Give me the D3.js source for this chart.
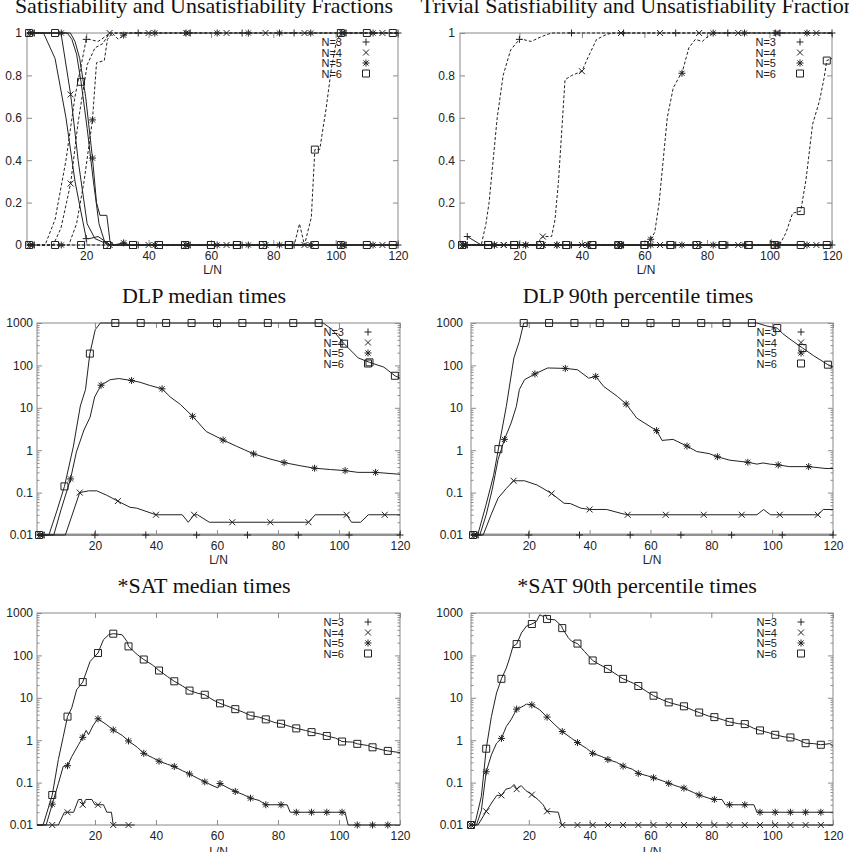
<!DOCTYPE html>
<html><head><meta charset="utf-8">
<script src="https://cdn.jsdelivr.net/npm/d3@7"></script>
<style>body{margin:0;background:#fff}</style>
</head><body>
<svg id="c" width="849" height="852" xmlns="http://www.w3.org/2000/svg"></svg>
<script>
// ---------------- DATA ----------------
const TITLES = ["Satisfiability and Unsatisfiability Fractions","Trivial Satisfiability and Unsatisfiability Fractions",
  "DLP median times","DLP 90th percentile times","*SAT median times","*SAT 90th percentile times"];
const X_LABEL = "L/N";
const X_TICKS = [20,40,60,80,100,120];
const LIN_TICKS = [0,0.2,0.4,0.6,0.8,1];
const LIN_LABELS = ["0","0.2","0.4","0.6","0.8","1"];
const LOG_TICKS = [0.01,0.1,1,10,100,1000];
const LOG_LABELS = ["0.01","0.1","1","10","100","1000"];
const LEGEND_N = [3,4,5,6];
const LEGEND_LABELS = ["N=3","N=4","N=5","N=6"];
// each point: [L/N, value, marker?]
// Panel 1: satisfiability (solid) / unsatisfiability (dashed) fractions
const fracSatN3 = [[1,1],[3.33,1,1],[6.3,1],[10,0.88],[13.5,0.6],[16.4,0.3],[20,0.03,1],[21,0.03],[23.8,0.04],[27.8,0],[36.67,0,1],[53.33,0,1],[70,0,1],[86.67,0,1],[103.33,0,1],[120,0,1]];
const fracUnsatN3 = [[1,0],[3.33,0,1],[6.8,0],[10,0.12],[13.5,0.4],[16.4,0.7],[20,0.97,1],[21,0.97],[23.8,0.96],[27.8,1],[36.67,1,1],[53.33,1,1],[70,1,1],[86.67,1,1],[103.33,1,1],[120,1,1]];
const fracSatN4 = [[1,1],[2.5,1,1],[11.9,1],[15,0.71,1],[17.4,0.4],[20.3,0.1],[22.8,0.03],[27.5,0,1],[40,0,1],[52.5,0,1],[65,0,1],[77.5,0,1],[90,0,1],[102.5,0,1],[115,0,1],[120,0]];
const fracUnsatN4 = [[1,0],[2.5,0,1],[9.4,0],[11.9,0.08],[15,0.29,1],[17.4,0.58],[20.3,0.85],[22.8,0.93],[25.3,0.95],[27.5,1,1],[40,1,1],[52.5,1,1],[65,1,1],[77.5,1,1],[90,1,1],[102.5,1,1],[115,1,1],[120,1]];
const fracSatN5 = [[1,1],[2,1,1],[12,1,1],[14.9,1],[16.4,0.96],[17.9,0.88],[19.8,0.7],[22,0.41,1],[23.3,0.2],[24.4,0.14],[26.6,0.14],[27.6,0.02],[28.8,0],[32,0.01,1],[33.8,0],[42,0,1],[52,0,1],[62,0,1],[72,0,1],[82,0,1],[92,0,1],[102,0,1],[112,0,1],[120,0]];
const fracUnsatN5 = [[1,0],[2,0,1],[12,0,1],[14.4,0],[16.9,0.1],[19.3,0.3],[22,0.59,1],[23.3,0.86],[25.8,0.87],[26.8,0.97],[28.3,1],[30.3,0.97],[32,0.99,1],[33.8,1],[42,1,1],[52,1,1],[62,1,1],[72,1,1],[82,1,1],[92,1,1],[102,1,1],[112,1,1],[120,1]];
const fracSatN6 = [[1,1],[1.67,1,1],[10,1,1],[13.9,1],[15.4,0.97],[16.9,0.9],[18.33,0.77,1],[20.3,0.55],[22.3,0.3],[24.1,0.1],[25.8,0.02],[26.67,0,1],[35,0,1],[43.33,0,1],[51.67,0,1],[60,0,1],[68.33,0,1],[76.67,0,1],[85,0,1],[93.33,0,1],[101.67,0,1],[110,0,1],[118.33,0,1],[120,0]];
const fracUnsatN6 = [[1,0],[1.67,0,1],[10,0,1],[18.33,0,1],[26.67,0,1],[35,0,1],[43.33,0,1],[51.67,0,1],[60,0,1],[68.33,0,1],[76.67,0,1],[85,0,1],[86.7,0],[88.4,0.1],[90,0],[92.2,0.13],[93.33,0.45,1],[94.9,0.45],[97,0.65],[98.6,0.83],[100.1,0.95],[101.67,1,1],[110,1,1],[118.33,1,1],[120,1]];
// Panel 2: trivial fractions
const trivSatN3 = [[3.33,0.04,1],[7.8,0],[20,0,1],[36.67,0,1],[53.33,0,1],[70,0,1],[86.67,0,1],[103.33,0,1],[120,0,1]];
const trivUnsatN3 = [[3.33,0,1],[7.8,0],[9.3,0.1],[10.3,0.2],[11.6,0.4],[12.9,0.6],[14.8,0.8],[17.2,0.92],[20,0.97,1],[21,0.97],[23.8,0.96],[26.6,0.98],[30.2,1],[36.67,1,1],[53.33,1,1],[70,1,1],[86.67,1,1],[103.33,1,1],[120,1,1]];
const trivSatN4 = [[2.5,0,1],[15,0,1],[27.5,0,1],[40,0,1],[52.5,0,1],[65,0,1],[77.5,0,1],[90,0,1],[102.5,0,1],[115,0,1],[120,0]];
const trivUnsatN4 = [[2.5,0,1],[15,0,1],[25.4,0],[27.5,0.04,1],[30.3,0.04],[31.4,0.12],[32.5,0.3],[33.6,0.55],[34.6,0.78],[36.8,0.8],[40,0.82,1],[42.1,0.89],[44.7,0.97],[47.4,0.99],[49.6,1],[52.5,1,1],[65,1,1],[77.5,1,1],[90,1,1],[102.5,1,1],[115,1,1],[120,1]];
const trivSatN5 = [[2,0,1],[12,0,1],[22,0,1],[32,0,1],[42,0,1],[52,0,1],[62,0,1],[72,0,1],[82,0,1],[92,0,1],[102,0,1],[112,0,1],[120,0]];
const trivUnsatN5 = [[2,0,1],[12,0,1],[22,0,1],[32,0,1],[42,0,1],[52,0,1],[60.3,0],[62,0.027,1],[63.3,0.06],[64.7,0.2],[66,0.4],[67.3,0.6],[69.2,0.74],[71,0.79],[72,0.81,1],[74.2,0.93],[76.3,0.97],[78.5,0.96],[80,0.98],[82,1,1],[92,1,1],[102,1,1],[112,1,1],[120,1]];
const trivSatN6 = [[1.67,0,1],[10,0,1],[18.33,0,1],[26.67,0,1],[35,0,1],[43.33,0,1],[51.67,0,1],[60,0,1],[68.33,0,1],[76.67,0,1],[85,0,1],[93.33,0,1],[101.67,0,1],[110,0,1],[118.33,0,1],[120,0]];
const trivUnsatN6 = [[1.67,0,1],[10,0,1],[18.33,0,1],[26.67,0,1],[35,0,1],[43.33,0,1],[51.67,0,1],[60,0,1],[68.33,0,1],[76.67,0,1],[85,0,1],[93.33,0,1],[99.9,0],[100.6,0.027],[101.67,0,1],[103.2,0],[105.2,0.055],[107.4,0.15],[110,0.16,1],[111.7,0.31],[113.8,0.57],[116,0.68],[117.5,0.79],[118.33,0.87,1],[120,0.88]];
// Panel 3: DLP median times
const dlpMedN3 = [[1,0.01],[3.33,0.01,1],[20,0.01,1],[36.67,0.01,1],[53.33,0.01,1],[70,0.01,1],[86.67,0.01,1],[103.33,0.01,1],[120,0.01,1]];
const dlpMedN4 = [[1,0.01],[2.5,0.01,1],[10.3,0.01],[15,0.1,1],[17.9,0.11],[20.6,0.11],[23.8,0.087],[27.5,0.063,1],[31.5,0.045],[33.7,0.043],[40,0.03,1],[48.6,0.03],[50.6,0.02],[52.5,0.03,1],[53.6,0.03],[57.5,0.02],[65,0.02,1],[77.5,0.02,1],[90,0.02,1],[92.2,0.03],[102.5,0.03,1],[104.1,0.02],[107.1,0.02],[109.6,0.03],[115,0.03,1],[120,0.03]];
const dlpMedN5 = [[1,0.01],[2,0.01,1],[6.5,0.01],[8.9,0.04],[12,0.21,1],[13.9,0.9],[16.4,3],[18.4,6],[19.9,18],[22,34,1],[25,46],[27.8,49],[32,44,1],[34.8,40],[37.8,34],[42,28,1],[44.7,18],[48,12],[52,6.3,1],[56.5,2.75],[62,1.74,1],[66.5,1.23],[72,0.82,1],[77.4,0.62],[82,0.51,1],[87.3,0.43],[92,0.376,1],[97.2,0.35],[102,0.33,1],[106.2,0.3],[112,0.3,1],[120,0.27]];
const dlpMedN6 = [[1,0.01],[1.67,0.01,1],[4.9,0.01],[7.4,0.035],[10,0.14,1],[12.9,1.2],[15.2,11],[16.9,27],[18.33,190,1],[20.1,700],[21.8,1000],[26.67,1000,1],[35,1000,1],[43.33,1000,1],[51.67,1000,1],[60,1000,1],[68.33,1000,1],[76.67,1000,1],[85,1000,1],[93.33,1000,1],[94.8,1000],[97.8,700],[101.67,325,1],[106.3,150],[110,118,1],[114.7,91],[118.33,57,1],[120,50]];
// Panel 4: DLP 90th percentile times
const dlp90N3 = [[1,0.01],[3.33,0.01,1],[20,0.01,1],[36.67,0.01,1],[53.33,0.01,1],[70,0.01,1],[86.67,0.01,1],[103.33,0.01,1],[120,0.01,1]];
const dlp90N4 = [[1,0.01],[2.5,0.01,1],[5,0.01],[7.6,0.03],[9.9,0.074],[12.6,0.125],[15,0.19,1],[18.6,0.19],[22.8,0.15],[27.5,0.095,1],[31.6,0.056],[33.7,0.055],[37.1,0.043],[40,0.04,1],[45.6,0.04],[50.6,0.032],[52.5,0.03,1],[65,0.03,1],[77.5,0.03,1],[90,0.03,1],[95,0.03],[97.2,0.04],[99.4,0.03],[102.5,0.03,1],[115,0.03,1],[116.8,0.04],[120,0.04]];
const dlp90N5 = [[1,0.01],[2,0.01,1],[3.9,0.01],[6,0.03],[8,0.12],[9.9,0.6],[12,1.8,1],[14.2,4.4],[15.9,10.7],[16.9,27],[18.6,46],[22,63,1],[26.2,87],[32,85,1],[36,79],[39.7,50],[42,55,1],[44.6,32],[49.1,18.6],[52,12.3,1],[55.5,5.7],[62,2.9,1],[63.8,1.7],[67.4,1.8],[72,1.25,1],[75.2,0.93],[79.3,0.83],[82,0.7,1],[86.1,0.58],[92,0.52,1],[95,0.47],[97,0.5],[99.2,0.47],[102,0.45,1],[105.6,0.41],[112,0.41,1],[117.7,0.37],[120,0.37]];
const dlp90N6 = [[1,0.01],[1.67,0.01,1],[3.2,0.01],[5.9,0.05],[8.4,0.25],[10,1.06,1],[12.6,10.7],[15.1,150],[16.9,370],[18.33,1000,1],[26.67,1000,1],[35,1000,1],[43.33,1000,1],[51.67,1000,1],[60,1000,1],[68.33,1000,1],[76.67,1000,1],[85,1000,1],[93.33,1000,1],[95,1000],[98.2,850],[101.67,760,1],[103.5,560],[106.2,400],[110,257,1],[113.6,170],[118.33,104,1],[120,92]];
// Panel 5: *SAT median times
const satMedN4 = [[1,0.01],[6,0.01,1],[8,0.01],[10,0.02],[11,0.02,1],[13,0.02],[14.6,0.04],[15.6,0.04],[16,0.03,1],[17,0.04],[19,0.04],[20,0.03],[21,0.03,1],[22.8,0.03],[23.9,0.02],[25.4,0.02],[26,0.01,1],[31,0.01,1],[33,0.01]];
const satMedN5 = [[1,0.01],[4,0.01],[6,0.031,1],[8,0.095],[9.6,0.24],[11,0.25,1],[12.4,0.41],[14.6,0.78],[16,1.17,1],[17.1,1.7],[17.9,1.35],[19.5,2.3],[21,3.2,1],[23.9,2.3],[26,1.75,1],[28.9,1.3],[31,0.96,1],[33.9,0.68],[36,0.49,1],[38.8,0.39],[41,0.32,1],[43.8,0.27],[46,0.24,1],[48.7,0.19],[51,0.16,1],[53.7,0.126],[56,0.104,1],[58.7,0.084],[60.3,0.075],[61,0.095,1],[63.6,0.075],[66,0.062,1],[68.9,0.051],[71,0.043,1],[73.8,0.038],[76,0.03,1],[81,0.03,1],[83,0.03],[84,0.02],[86,0.02,1],[91,0.02,1],[96,0.02,1],[101,0.02,1],[102,0.02],[103,0.01],[106,0.01,1],[111,0.01,1],[116,0.01,1],[120,0.01]];
const satMedN6 = [[1,0.01],[3,0.01],[6,0.051,1],[8,0.35],[9.6,1.2],[11,3.6,1],[12.4,5.8],[14,15.5],[16,23.5,1],[18.4,72],[21,114,1],[22.8,235],[24.5,307],[26,325,1],[28.9,307],[30.5,214],[31,163,1],[33.9,104],[36,80,1],[38.8,60],[41,44,1],[43.8,31.6],[46,24.5,1],[48.7,19],[51,14.8,1],[53.7,12.8],[56,11.8,1],[58.7,8.9],[61,7.4,1],[63.6,6.3],[66,5.4,1],[68.9,4.5],[71,3.8,1],[73.8,3.5],[76,3.1,1],[79,2.6],[81,2.45,1],[84,2.1],[86,1.9,1],[89,1.7],[91,1.55,1],[93.9,1.4],[96,1.26,1],[98.9,1.12],[101,0.93,1],[104.4,0.9],[106,0.82,1],[109.4,0.75],[111,0.68,1],[114.3,0.59],[116,0.56,1],[120,0.51]];
// Panel 6: *SAT 90th percentile times
const sat90N4 = [[1,0.01,1],[3.3,0.01],[6,0.021,1],[8,0.035],[9.5,0.05],[11,0.05,1],[12.5,0.07],[14,0.075],[15.2,0.09],[16,0.07,1],[17.5,0.085],[19,0.065],[21,0.052,1],[23,0.04],[24.7,0.03],[26,0.021,1],[29.7,0.02],[30.8,0.01],[31,0.01,1],[36,0.01,1],[41,0.01,1],[46,0.01,1],[51,0.01,1],[56,0.01,1],[61,0.01,1],[66,0.01,1],[71,0.01,1],[76,0.01,1],[81,0.01,1],[86,0.01,1],[91,0.01,1],[96,0.01,1],[101,0.01,1],[106,0.01,1],[111,0.01,1],[116,0.01,1],[120,0.01]];
const sat90N5 = [[1,0.01,1],[2.8,0.01],[4.4,0.022],[6,0.18,1],[7.7,0.45],[9.4,0.85],[11,1.1,1],[12.6,2.1],[14.3,3.15],[16,5.4,1],[18.1,6.3],[19.2,7.1],[21,6.8,1],[23.6,5.2],[26,3.5,1],[28.6,2.3],[31,1.6,1],[34.1,1.1],[36,0.88,1],[39,0.64],[41,0.49,1],[44,0.41],[46,0.35,1],[48.9,0.3],[51,0.245,1],[54.1,0.206],[56,0.165,1],[59.1,0.144],[61,0.13,1],[64,0.11],[66,0.096,1],[69,0.081],[71,0.074,1],[74.2,0.058],[76,0.051,1],[79.1,0.043],[81,0.04,1],[83.5,0.04],[84.6,0.03],[86,0.03,1],[91,0.03,1],[94,0.03],[95,0.02],[96,0.02,1],[101,0.02,1],[106,0.02,1],[111,0.02,1],[116,0.02,1],[120,0.02]];
const sat90N6 = [[1,0.01,1],[2.2,0.01],[4.4,0.047],[6,0.63,1],[7.7,3.6],[9.4,13],[11,28,1],[12.6,50],[13.7,87],[14.8,163],[16,185,1],[17.6,340],[19.2,490],[21,550,1],[22.5,630],[23.6,910],[24.7,830],[25.5,900],[26,720,1],[28.6,690],[30.8,490],[31,440,1],[33,260],[34.1,215],[36,190,1],[38.3,124],[41,76,1],[43.4,60],[46,48,1],[49.5,33],[51,28,1],[54.4,22],[56,19,1],[58.8,14],[61,11.2,1],[64,8.9],[66,7.8,1],[69,6.8],[71,6.3,1],[74.2,5],[76,4.5,1],[79.1,3.7],[81,3.5,1],[84,3],[86,2.7,1],[89,2.45],[91,2.4,1],[94,1.9],[96,1.7,1],[98.9,1.5],[101,1.34,1],[103.9,1.2],[106,1.16,1],[108.8,1],[111,0.85,1],[113.7,0.83],[116,0.78,1],[119,0.83],[120,0.72]];

// ---------------- CONFIG ----------------
const X_DOMAIN = [1,120];
const PANELS = [
  {title:TITLES[0], log:false, series:[
    {d:fracSatN3,n:3},{d:fracSatN4,n:4},{d:fracSatN5,n:5},{d:fracSatN6,n:6},
    {d:fracUnsatN3,n:3,dash:true},{d:fracUnsatN4,n:4,dash:true},{d:fracUnsatN5,n:5,dash:true},{d:fracUnsatN6,n:6,dash:true}]},
  {title:TITLES[1], log:false, series:[
    {d:trivSatN3,n:3},{d:trivSatN4,n:4},{d:trivSatN5,n:5},{d:trivSatN6,n:6},
    {d:trivUnsatN3,n:3,dash:true},{d:trivUnsatN4,n:4,dash:true},{d:trivUnsatN5,n:5,dash:true},{d:trivUnsatN6,n:6,dash:true}]},
  {title:TITLES[2], log:true, series:[{d:dlpMedN3,n:3,base:true},{d:dlpMedN4,n:4},{d:dlpMedN5,n:5},{d:dlpMedN6,n:6}]},
  {title:TITLES[3], log:true, series:[{d:dlp90N3,n:3,base:true},{d:dlp90N4,n:4},{d:dlp90N5,n:5},{d:dlp90N6,n:6}]},
  {title:TITLES[4], log:true, series:[{d:satMedN4,n:4},{d:satMedN5,n:5},{d:satMedN6,n:6}]},
  {title:TITLES[5], log:true, series:[{d:sat90N4,n:4},{d:sat90N5,n:5},{d:sat90N6,n:6}]}
];
const LAYOUT = [
  {x0:27,x1:398,y0:33,y1:245,gap:5,tx:204,ty:13,ln:29},
  {x0:460,x1:832,y0:33,y1:245,gap:5,tx:642,ty:13,ln:29},
  {x0:37,x1:400,y0:323,y1:535,gap:4,tx:204,ty:303,ln:29},
  {x0:471,x1:833,y0:323,y1:535,gap:8,tx:638,ty:303,ln:29},
  {x0:37,x1:400,y0:613,y1:825,gap:4,tx:204,ty:593,ln:31},
  {x0:471,x1:833,y0:613,y1:825,gap:8,tx:637,ty:593,ln:31}
];

const SANS = "'Liberation Sans', Arial, Helvetica, sans-serif";
const SERIF = "'Liberation Serif', 'Times New Roman', serif";
const INK = "#222", FRAME = "#8a8a8a";

const MARK = {
  3: "M-3.5,0H3.5M0,-3.5V3.5",
  4: "M-3,-3L3,3M-3,3L3,-3",
  5: "M-3.5,0H3.5M0,-3.5V3.5M-2.6,-2.6L2.6,2.6M-2.6,2.6L2.6,-2.6",
  6: "M-3.5,-3.5H3.5V3.5H-3.5Z"
};

const svg = d3.select("#c");

function styleAxis(g){
  g.select(".domain").remove();
  g.selectAll(".tick line").attr("stroke",FRAME);
  g.selectAll(".tick text").attr("fill",INK).attr("font-family",SANS).attr("font-size",12);
  g.attr("font-family",SANS).attr("font-size",12);
}

PANELS.forEach((p,i)=>{
  const L = LAYOUT[i];
  const x = d3.scaleLinear().domain(X_DOMAIN).range([L.x0,L.x1]);
  const y = p.log ? d3.scaleLog().domain([0.01,1000]).range([L.y1,L.y0])
                  : d3.scaleLinear().domain([0,1]).range([L.y1,L.y0]);
  const g = svg.append("g");

  g.append("text").attr("x",L.tx).attr("y",L.ty).attr("text-anchor","middle")
    .attr("font-family",SERIF).attr("font-size",22).attr("fill","#111").text(p.title);

  const yT = p.log ? LOG_TICKS : LIN_TICKS;
  const yL = p.log ? LOG_LABELS : LIN_LABELS;

  g.append("g").attr("transform",`translate(0,${L.y1})`)
    .call(d3.axisBottom(x).tickValues(X_TICKS).tickFormat(d3.format("d")).tickSize(-5).tickPadding(6.5))
    .call(styleAxis);
  g.append("g").attr("transform",`translate(0,${L.y0})`)
    .call(d3.axisTop(x).tickValues(X_TICKS).tickFormat("").tickSize(-5))
    .call(styleAxis);
  g.append("g").attr("transform",`translate(${L.x0},0)`)
    .call(d3.axisLeft(y).tickValues(yT).tickFormat((d,k)=>yL[k]).tickSize(-5).tickPadding(L.gap))
    .call(styleAxis);
  g.append("g").attr("transform",`translate(${L.x1},0)`)
    .call(d3.axisRight(y).tickValues(yT).tickFormat("").tickSize(-5))
    .call(styleAxis);
  if (p.log){
    const minor = [];
    [0.01,0.1,1,10,100].forEach(b=>{ for(let m=2;m<=9;m++) minor.push(b*m); });
    g.append("g").attr("transform",`translate(${L.x0},0)`)
      .call(d3.axisLeft(y).tickValues(minor).tickFormat("").tickSize(-2.5)).call(styleAxis);
    g.append("g").attr("transform",`translate(${L.x1},0)`)
      .call(d3.axisRight(y).tickValues(minor).tickFormat("").tickSize(-2.5)).call(styleAxis);
  }

  g.append("text").attr("x",(L.x0+L.x1)/2).attr("y",L.y1+L.ln).attr("text-anchor","middle")
    .attr("font-family",SANS).attr("font-size",12).attr("fill",INK).text(X_LABEL);

  const clipId = "clip"+i;
  g.append("clipPath").attr("id",clipId).append("rect")
    .attr("x",L.x0-1).attr("y",L.y0-1).attr("width",L.x1-L.x0+2).attr("height",L.y1-L.y0+2);

  const line = d3.line().x(d=>x(d[0])).y(d=>y(d[1]));
  const lines = g.append("g").attr("clip-path",`url(#${clipId})`);

  p.series.filter(s=>s.base).forEach(s=>{
    lines.append("path").datum(s.d).attr("d",line).attr("fill","none")
      .attr("stroke","#9a9a9a").attr("stroke-width",3);
  });

  g.append("rect").attr("x",L.x0).attr("y",L.y0).attr("width",L.x1-L.x0).attr("height",L.y1-L.y0)
    .attr("fill","none").attr("stroke",FRAME).attr("stroke-width",1);

  const lines2 = g.append("g").attr("clip-path",`url(#${clipId})`);
  p.series.filter(s=>!s.base).forEach(s=>{
    lines2.append("path").datum(s.d).attr("d",line).attr("fill","none")
      .attr("stroke",INK).attr("stroke-width",1).attr("stroke-linejoin","round")
      .attr("stroke-dasharray",s.dash?"3,2":null);
  });

  const mk = g.append("g");
  p.series.forEach(s=>{
    mk.selectAll(null).data(s.d.filter(d=>d[2] && d[0]>=X_DOMAIN[0])).enter().append("path")
      .attr("transform",d=>`translate(${x(d[0])},${y(d[1])})`)
      .attr("d",MARK[s.n]).attr("fill","none").attr("stroke",INK).attr("stroke-width",1);
  });

  const lg = g.append("g");
  LEGEND_N.forEach((n,k)=>{
    const cy = L.y0 + 9 + k*10.5;
    lg.append("text").attr("x",L.x1-56).attr("y",cy+4).attr("text-anchor","end")
      .attr("font-family",SANS).attr("font-size",11).attr("fill",INK).text(LEGEND_LABELS[k]);
    lg.append("path").attr("transform",`translate(${L.x1-32},${cy})`)
      .attr("d",MARK[n]).attr("fill","none").attr("stroke",INK).attr("stroke-width",1);
  });
});
</script>
</body></html>
